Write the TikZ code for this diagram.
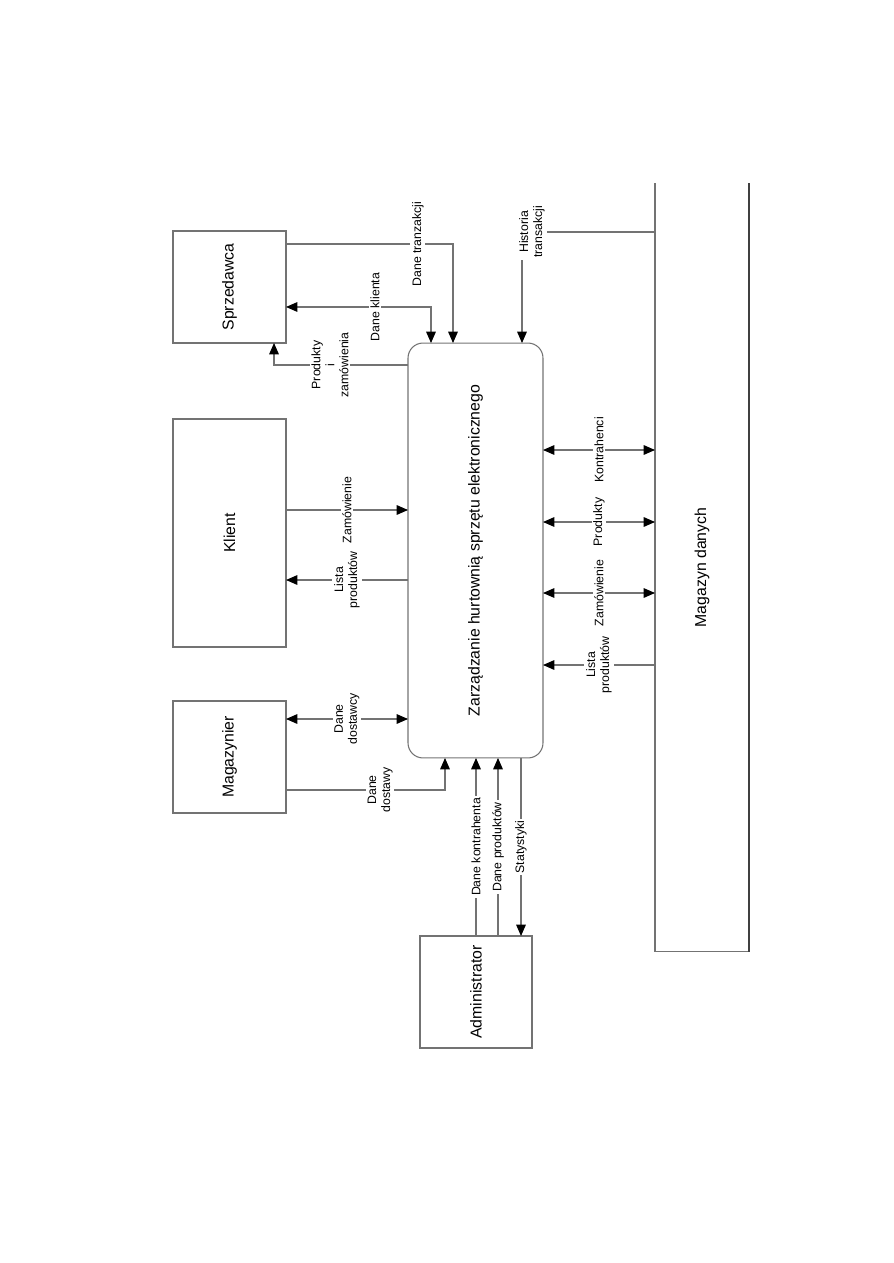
\documentclass[tikz,border=0pt]{standalone}
\usepackage{fontspec}
\setmainfont{Liberation Sans}
\usetikzlibrary{arrows.meta}

\begin{document}
\begin{tikzpicture}[
    x=0.02cm, y=-0.02cm,
    font=\fontsize{9}{11}\selectfont, >={Triangle[length=6.5pt, width=5.5pt, color=black]},
    linia/.style={draw=black!55, line width=0.6pt},
    aktor/.style={rectangle, draw=black!55, line width=0.6pt, inner sep=0pt, outer sep=0pt, minimum width=2.26cm, minimum height=2.24cm},
    opis/.style={fill=white, rotate=90, inner sep=1pt, align=center, font=\fontsize{7}{8}\selectfont}
  ]
    \useasboundingbox (0,0) rectangle (893,1263);

    % --- AKTORZY ---
    \node[aktor] (sprz) at (229.5,287) {\rotatebox{90}{Sprzedawca}};
    \node[aktor, minimum height=4.56cm] (klient) at (229.5,533) {\rotatebox{90}{Klient}};
    \node[aktor] (mag) at (229.5,757) {\rotatebox{90}{Magazynier}};
    \node[aktor, minimum width=2.24cm] (admin) at (476,992) {\rotatebox{90}{Administrator}};

    % --- SYSTEM ---
    \node[aktor, rounded corners=0.3cm, minimum width=2.7cm, minimum height=8.3cm] (system) at (475.5,550.5)
          {\rotatebox{90}{Zarządzanie hurtownią sprzętu elektronicznego}};

    % --- MAGAZYN DANYCH (otwarty od góry) ---
    \node[inner sep=0pt, outer sep=0pt, minimum width=1.88cm, minimum height=15.38cm] (magazyn) at (702,567.5)
          {\rotatebox{90}{Magazyn danych}};
    \draw[linia] (magazyn.north west) -- (magazyn.south west) -- (magazyn.south east);
    \draw[draw=black!75, line width=1.2pt] (magazyn.south east) -- (magazyn.north east);

    % --- Sprzedawca ---
    \draw[linia, ->] (sprz.east |- 0,244) -| node[opis, pos=0.395] {Dane tranzakcji} (system.north -| 453,0);
    \draw[linia, <->] (sprz.east |- 0,307) -| node[opis, pos=0.307] {Dane klienta} (system.north -| 431,0);
    \draw[linia, ->] (system.west |- 0,365) -| node[opis, pos=0.291] {Produkty\\i\\zamówienia} (sprz.south -| 274,0);

    % --- Klient ---
    \draw[linia, ->] (klient.east |- 0,510) -- node[opis] {Zamówienie} (system.west |- 0,510);
    \draw[linia, ->] (system.west |- 0,580) -- node[opis] {Lista\\produktów} (klient.east |- 0,580);

    % --- Magazynier ---
    \draw[linia, <->] (mag.east |- 0,719) -- node[opis] {Dane\\dostawcy} (system.west |- 0,719);
    \draw[linia, ->] (mag.east |- 0,790) -| node[opis, pos=0.296] {Dane\\dostawy} (system.south -| 445,0);

    % --- Administrator ---
    \draw[linia, ->] (admin.north -| 476,0) -- node[opis] {Dane kontrahenta} (system.south -| 476,0);
    \draw[linia, ->] (admin.north -| 498,0) -- node[opis] {Dane produktów} (system.south -| 498,0);
    \draw[linia, ->] (system.south -| 521,0) -- node[opis] {Statystyki} (admin.north -| 521,0);

    % --- Magazyn danych ---
    \draw[linia, ->] (magazyn.west |- 0,232) -| node[opis, pos=0.5, yshift=-0.2cm] {Historia\\transakcji} (system.north -| 522,0);
    \foreach \yy/\txt in {450/Kontrahenci, 522/Produkty, 593/Zamówienie} {
        \draw[linia, <->] (system.east |- 0,\yy) -- node[opis] {\txt} (magazyn.west |- 0,\yy);
    }
    \draw[linia, ->] (magazyn.west |- 0,665) -- node[opis] {Lista\\produktów} (system.east |- 0,665);

  \end{tikzpicture}
\end{document}
